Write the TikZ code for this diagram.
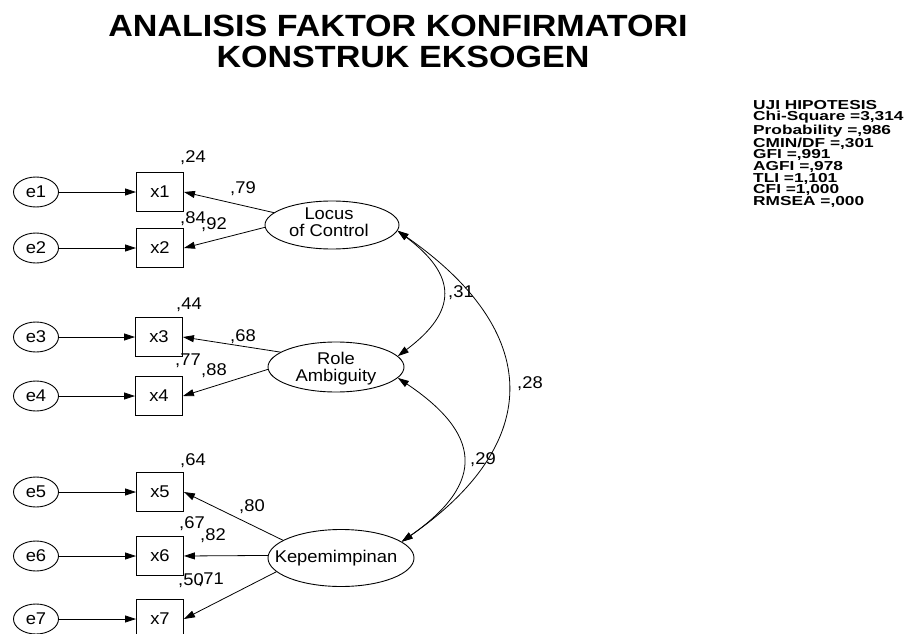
\documentclass[tikz,border=0pt]{standalone}
\usepackage{fontspec}
\setmainfont{Liberation Sans}
\newfontfamily\diagfont[FakeStretch=1.08]{Liberation Sans}
\newfontfamily\judulfont[FakeStretch=1.11]{Liberation Sans}
\newfontfamily\ujifont[FakeStretch=1.33]{Liberation Sans}
\usetikzlibrary{arrows.meta,shapes.geometric}

\begin{document}
\begin{tikzpicture}[x=1pt,y=-1pt,
    teks/.style={font=\diagfont\fontsize{17}{17}\selectfont, inner sep=0pt},
    err/.style={draw, ellipse, line width=0.9pt, minimum width=45pt, minimum height=30pt, inner sep=0pt, teks},
    ind/.style={draw, rectangle, line width=0.9pt, minimum width=47pt, minimum height=39pt, inner sep=0pt, teks},
    lat/.style={draw, ellipse, line width=0.9pt, inner sep=0pt},
    panah/.style={line width=0.8pt, -{Triangle[length=11pt,width=7pt]}},
    kov/.style={line width=0.8pt, {Triangle[length=11pt,width=7pt]}-{Triangle[length=11pt,width=7pt]}}]
    \useasboundingbox (0,0) rectangle (916,634);
    % judul
    \node[font=\judulfont\bfseries\fontsize{30.7}{31}\selectfont, anchor=base] (judul1) at (398,37) {ANALISIS FAKTOR KONFIRMATORI};
    \node[font=\judulfont\bfseries\fontsize{30.7}{31}\selectfont, anchor=base] (judul2) at (403,68) {KONSTRUK EKSOGEN};
    % uji hipotesis
    \node[font=\ujifont\bfseries\fontsize{13}{11.67}\selectfont, align=left, anchor=north west, inner sep=0pt] (uji) at (753,100)
        {UJI HIPOTESIS\\Chi-Square =3,314\\Probability =,986\\CMIN/DF =,301\\GFI =,991\\AGFI =,978\\TLI =1,101\\CFI =1,000\\RMSEA =,000};
    % variabel laten
    \node[lat, minimum width=134pt, minimum height=48pt] (loc) at (332,225) {};
    \node[teks, align=center] (loc-t) at (329,222) {Locus\\of Control};
    \node[lat, minimum width=136pt, minimum height=50pt] (ra) at (336,367) {};
    \node[teks, align=center] (ra-t) at (336,369) {Role\\Ambiguity};
    \node[lat, minimum width=146pt, minimum height=57pt] (kep) at (341,558) {};
    \node[teks] (kep-t) at (336,558) {Kepemimpinan};
    % indikator
    \node[ind] (x1) at (160,192) {x1};
    \node[ind] (x2) at (160,248) {x2};
    \node[ind] (x3) at (159,337) {x3};
    \node[ind] (x4) at (159,396) {x4};
    \node[ind] (x5) at (160,492) {x5};
    \node[ind] (x6) at (160,556) {x6};
    \node[ind] (x7) at (160,619) {x7};
    % error
    \node[err] (e1) at (36,192) {e1};
    \node[err] (e2) at (36,248) {e2};
    \node[err] (e3) at (36,337) {e3};
    \node[err] (e4) at (36,396) {e4};
    \node[err] (e5) at (36,492) {e5};
    \node[err] (e6) at (36,556) {e6};
    \node[err] (e7) at (36,619) {e7};
    \draw[panah] (e1) -- (x1);
    \draw[panah] (e2) -- (x2);
    \draw[panah] (e3) -- (x3);
    \draw[panah] (e4) -- (x4);
    \draw[panah] (e5) -- (x5);
    \draw[panah] (e6) -- (x6);
    \draw[panah] (e7) -- (x7);
    % loading
    \draw[panah] (loc.168) -- (x1.east);
    \draw[panah] (loc.182) -- (x2.east);
    \draw[panah] (ra.165) -- (x3.east);
    \draw[panah] (ra.182) -- (x4.east);
    \draw[panah] (kep.163) -- (x5.east);
    \draw[panah] (kep.178) -- (x6.east);
    \draw[panah] (kep.192) -- (x7.east);
    % kovarians
    \draw[kov] (loc.-5) .. controls +(60,45) and +(60,-45) .. (ra.10);
    \draw[kov] (loc.-5) .. controls +(144,100) and +(144,-100) .. (kep.15);
    \draw[kov] (ra.-10) .. controls +(82,55) and +(86,-60) .. (kep.15);
    % angka
    \node[teks] (r24) at (193,158) {,24};
    \node[teks] (l79) at (243,189) {,79};
    \node[teks] (r84) at (193,219) {,84};
    \node[teks] (l92) at (214,225) {,92};
    \node[teks] (r44) at (189,305) {,44};
    \node[teks] (l68) at (243,337) {,68};
    \node[teks] (r77) at (188,361) {,77};
    \node[teks] (l88) at (214,371) {,88};
    \node[teks] (r64) at (193,461) {,64};
    \node[teks] (l80) at (252,507) {,80};
    \node[teks] (r67) at (192,524) {,67};
    \node[teks] (l82) at (213,536) {,82};
    \node[teks] (r50) at (191,581) {,50};
    \node[teks] (l71) at (211,580) {,71};
    \node[teks] (k31) at (461,293) {,31};
    \node[teks] (k28) at (530,384) {,28};
    \node[teks] (k29) at (483,460) {,29};
\end{tikzpicture}
\end{document}
